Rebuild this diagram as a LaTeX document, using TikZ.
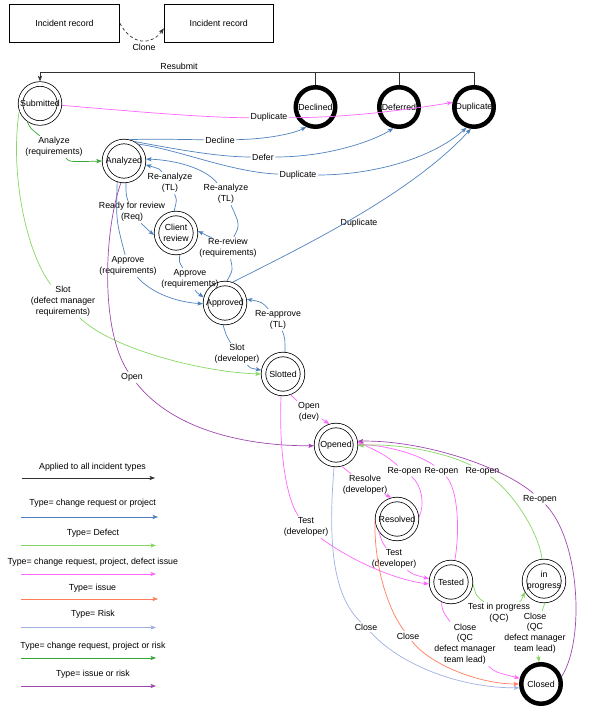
\documentclass[tikz,border=0pt]{standalone}
\usepackage{fontspec}
\setmainfont{Liberation Sans}
\usetikzlibrary{arrows.meta}
\newcommand\efont{\fontsize{8.8}{10.8}\selectfont}
\definecolor{cblk}{RGB}{50,50,50}
\definecolor{cblue}{RGB}{79,129,189}
\definecolor{cdef}{RGB}{135,215,100}
\definecolor{cmag}{RGB}{255,102,255}
\definecolor{corg}{RGB}{255,125,90}
\definecolor{crisk}{RGB}{160,175,225}
\definecolor{cgrn}{RGB}{55,165,55}
\definecolor{cpur}{RGB}{160,70,175}
\begin{document}
\begin{tikzpicture}[x=1pt,y=-1pt,
  every node/.style={font=\efont},
  ln/.style={line width=0.7pt},
  ar/.style={ln,-{Stealth[length=5.5pt,width=4.2pt,inset=1.2pt]}},
  dstate/.style={circle,draw=black,line width=0.75pt,double,double distance=3.8pt,minimum size=39pt,inner sep=0pt,outer sep=2.6pt},
  fstate/.style={circle,draw=black,line width=4.5pt,minimum size=39.5pt,inner sep=0pt},
  recbox/.style={draw=black,rectangle,line width=0.75pt,minimum width=110pt,minimum height=38pt},
  elab/.style={align=center,inner sep=1.5pt}]
\useasboundingbox (0,0) rectangle (590,708);

% boxes
\node[recbox] (rec1) at (64.5,23.3) {Incident record};
\node[recbox,minimum width=109pt] (rec2) at (218.7,23.3) {Incident record};
\draw[ar,cblk,dash pattern=on 3pt off 2.5pt] (rec1.east) .. controls (132,46) and (152,45) .. ([yshift=-5pt]rec2.west);
\node (lClone) at (144,47.5) {Clone};

% states
\node[dstate,label={center:Submitted}] (sub) at (40,103.5) {};
\node[fstate,label={center:Declined}] (decl) at (315.5,107) {};
\node[fstate,label={center:Deferred}] (defe) at (399,107) {};
\node[fstate,label={center:Duplicate}] (dupl) at (474,107) {};
\node[dstate,label={center:Analyzed}] (ana) at (124,161) {};
\node[dstate,label={[align=center]center:Client\\review}] (cli) at (176,233) {};
\node[dstate,label={center:Approved}] (appr) at (225,303) {};
\node[dstate,label={center:Slotted}] (slot) at (283,374) {};
\node[dstate,label={center:Opened}] (open) at (336,445) {};
\node[dstate,label={center:Resolved}] (reso) at (397,519) {};
\node[dstate,label={center:Tested}] (test) at (451,582) {};
\node[dstate,label={[align=center]center:in\\progress}] (prog) at (544,581) {};
\node[fstate,label={center:Closed}] (clos) at (541,684) {};

% resubmit
\coordinate (rs) at (40,72);
\draw[ar,cblk] (dupl.north) |- (rs) -- (sub.north);
\draw[ln,cblk] (decl.north) -- (decl.north |- rs);
\draw[ln,cblk] (defe.north) -- (defe.north |- rs);
\node (lRes) at (179,66.5) {Resubmit};

% labels
\node[elab] (lDup1) at (269,117.5) {Duplicate};
\node[elab] (lDecl) at (220,140) {Decline};
\node[elab] (lDefer) at (263,157) {Defer};
\node[elab] (lDup2) at (298,175) {Duplicate};
\node[elab] (lDup3) at (359,223) {Duplicate};
\node[elab] (lReady) at (132,212) {Ready for review\\(Req)};
\node[elab] (lRA1) at (170,183) {Re-analyze\\(TL)};
\node[elab] (lRR) at (228,248) {Re-review\\(requirements)};
\node[elab] (lRA2) at (226,194) {Re-analyze\\(TL)};
\node[elab] (lAp1) at (128,266) {Approve\\(requirements)};
\node[elab] (lAp2) at (190,279) {Approve\\(requirements)};
\node[elab] (lSlotD) at (237,354) {Slot\\(developer)};
\node[elab] (lReapp) at (278,320) {Re-approve\\(TL)};
\node[elab] (lAnz) at (54,147) {Analyze\\(requirements)};
\node[elab] (lSlotDM) at (63,301) {Slot\\(defect manager\\requirements)};
\node[elab] (lOpen1) at (132,377.5) {Open};
\node[elab] (lOpenDev) at (309,412) {Open\\(dev)};
\node[elab] (lTest1) at (306,527) {Test\\(developer)};
\node[elab] (lResolve) at (365,485) {Resolve\\(developer)};
\node[elab] (lTest2) at (394,559) {Test\\(developer)};
\node[elab] (lReo1) at (404.5,471) {Re-open};
\node[elab] (lReo2) at (441.5,471) {Re-open};
\node[elab] (lReo3) at (482.5,471) {Re-open};
\node[elab] (lReo4) at (540,499) {Re-open};
\node[elab] (lClose1) at (366,627) {Close};
\node[elab] (lClose2) at (408,636) {Close};
\node[elab] (lClose3) at (465,644) {Close\\(QC\\defect manager\\team lead)};
\node[elab] (lTIP) at (499,613) {Test in progress\\(QC)};
\node[elab] (lClose4) at (535,633) {Close\\(QC\\defect manager\\team lead)};

% edges
\draw[ln,cmag] (sub) .. controls (140,112) and (210,118) .. (lDup1);
\draw[ar,cmag] (lDup1) .. controls (340,118) and (400,111) .. (dupl.168);

\draw[ln,cblue] (ana.75) .. controls (150,139) .. (lDecl);
\draw[ar,cblue] (lDecl) .. controls (270,139) and (295,133) .. (decl.245);
\draw[ln,cblue] (ana.62) .. controls (180,150) and (220,157) .. (lDefer);
\draw[ar,cblue] (lDefer) .. controls (330,157) and (375,140) .. (defe.255);
\draw[ln,cblue] (ana.50) .. controls (180,150) and (230,172) .. (lDup2);
\draw[ar,cblue] (lDup2) .. controls (370,175) and (430,160) .. (dupl.250);
\draw[ar,cblue] (appr.70) .. controls (300,248) and (410,195) .. (dupl.262);

\draw[ln,cblue] (ana.275) .. controls (126,195) .. (lReady);
\draw[ar,cblue] (lReady) .. controls (145,228) .. (cli.185);
\draw[ln,cblue] (cli.95) .. controls (177,200) .. (lRA1);
\draw[ar,cblue] (lRA1) .. controls (160,169) .. (ana.350);
\draw[ln,cblue] (appr.85) .. controls (233,270) .. (lRR);
\draw[ar,cblue] (lRR) .. controls (212,238) .. (cli.5);
\draw[ln,cblue] (lRR) .. controls (240,225) .. (lRA2);
\draw[ar,cblue] (lRA2) .. controls (205,168) and (175,160) .. (ana.5);
\draw[ln,cblue] (ana.252) .. controls (116,220) .. (lAp1);
\draw[ar,cblue] (lAp1) .. controls (150,292) and (175,302) .. (appr.182);
\draw[ln,cblue] (cli.280) .. controls (179,262) .. (lAp2);
\draw[ar,cblue] (lAp2) .. controls (196,292) .. (appr.165);
\draw[ln,cblue] (appr.265) .. controls (226,335) .. (lSlotD);
\draw[ar,cblue] (lSlotD) .. controls (250,368) .. (slot.170);
\draw[ln,cblue] (slot.85) .. controls (285,338) .. (lReapp);
\draw[ar,cblue] (lReapp) .. controls (262,302) .. (appr.10);

\draw[ln,cgrn] (sub.235) .. controls (30,128) .. (lAnz);
\draw[ar,cgrn] (lAnz) .. controls (70,162) .. (ana.180);
\draw[ln,cdef] (sub.200) .. controls (10,170) and (25,250) .. (lSlotDM);
\draw[ar,cdef] (lSlotDM) .. controls (110,348) and (200,372) .. (slot.180);

\draw[ln,cpur] (ana.262) .. controls (104,230) and (100,330) .. (lOpen1);
\draw[ar,cpur] (lOpen1) .. controls (175,432) and (250,446) .. (open.182);

\draw[ln,cmag] (slot.290) -- (lOpenDev);
\draw[ar,cmag] (lOpenDev) .. controls (322,419) .. (open.108);
\draw[ln,cmag] (slot.265) .. controls (279,440) and (284,495) .. (lTest1);
\draw[ar,cmag] (lTest1) .. controls (350,560) and (395,580) .. (test.185);
\draw[ln,cmag] (open.285) -- (lResolve);
\draw[ar,cmag] (lResolve) .. controls (384,494) .. (reso.105);
\draw[ln,cmag] (reso.215) .. controls (382,542) .. (lTest2);
\draw[ar,cmag] (lTest2) .. controls (412,574) .. (test.172);

\draw[ln,cmag] (reso.5) .. controls (425,505) and (422,485) .. (lReo1);
\draw[ar,cmag] (lReo1) .. controls (385,455) .. (open.8);
\draw[ln,cmag] (test.80) .. controls (460,530) and (458,490) .. (lReo2);
\draw[ar,cmag] (lReo2) .. controls (420,455) and (390,446) .. (open.2);
\draw[ln,cdef] (prog.95) .. controls (538,530) and (512,492) .. (lReo3);
\draw[ar,cdef] (lReo3) .. controls (440,450) and (390,443) .. (open.-2);
\draw[ln,cpur] (clos.20) .. controls (585,640) and (580,540) .. (lReo4);
\draw[ar,cpur] (lReo4) .. controls (500,465) and (420,440) .. (open.10);

\draw[ln,crisk] (open.265) .. controls (328,540) and (332,595) .. (lClose1);
\draw[ar,crisk] (lClose1) .. controls (400,665) and (460,688) .. (clos.190);
\draw[ln,corg] (reso.185) .. controls (374,560) and (385,605) .. (lClose2);
\draw[ar,corg] (lClose2) .. controls (430,665) and (480,684) .. (clos.180);
\draw[ln,cmag] (test.245) .. controls (442,610) .. (lClose3);
\draw[ar,cmag] (lClose3) .. controls (495,672) .. (clos.165);
\draw[ln,cdef] (test.355) .. controls (476,596) .. (lTIP);
\draw[ar,cdef] (lTIP) .. controls (521,601) .. (prog.210);
\draw[ln,cdef] (prog.272) -- (lClose4);
\draw[ar,cdef] (lClose4) -- (clos.95);

% legend
\node (g1) at (92.5,467) {Applied to all incident types};
\coordinate (g1a) at (21.5,478); \coordinate (g1b) at (155,478);
\draw[ar,cblk] (g1a) -- (g1b);
\node (g2) at (92.7,503.5) {Type= change request or project};
\coordinate (g2a) at (21,517); \coordinate (g2b) at (158,517);
\draw[ar,cblue] (g2a) -- (g2b);
\node (g3) at (93,533) {Type= Defect};
\coordinate (g3a) at (21,545.5); \coordinate (g3b) at (156,545.5);
\draw[ar,cdef] (g3a) -- (g3b);
\node (g4) at (92.8,562) {Type= change request, project, defect issue};
\coordinate (g4a) at (21,574); \coordinate (g4b) at (156,574);
\draw[ar,cmag] (g4a) -- (g4b);
\node (g5) at (92.5,588.5) {Type= issue};
\coordinate (g5a) at (21,599); \coordinate (g5b) at (158,599);
\draw[ar,corg] (g5a) -- (g5b);
\node (g6) at (93,614.7) {Type= Risk};
\coordinate (g6a) at (21,627.5); \coordinate (g6b) at (156,627.5);
\draw[ar,crisk] (g6a) -- (g6b);
\node (g7) at (93,646.3) {Type= change request, project or risk};
\coordinate (g7a) at (21,658); \coordinate (g7b) at (156,658);
\draw[ar,cgrn] (g7a) -- (g7b);
\node (g8) at (93,674.5) {Type= issue or risk};
\coordinate (g8a) at (21,686); \coordinate (g8b) at (156,686);
\draw[ar,cpur] (g8a) -- (g8b);
\end{tikzpicture}
\end{document}
